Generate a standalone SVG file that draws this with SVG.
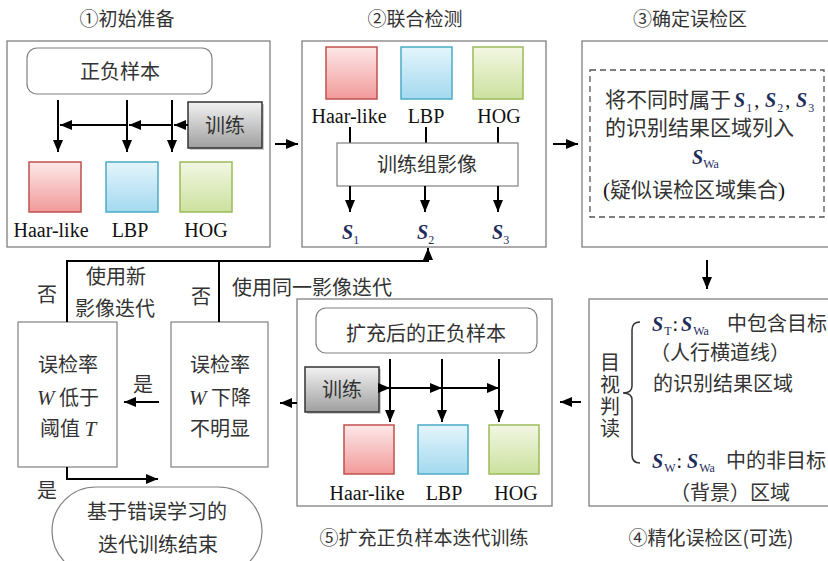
<svg xmlns="http://www.w3.org/2000/svg" width="828" height="561" viewBox="0 0 828 561">
<defs>
<linearGradient id="gRed" x1="0" y1="0" x2="0" y2="1"><stop offset="0" stop-color="#fde8e8"/><stop offset="1" stop-color="#f29a9a"/></linearGradient>
<linearGradient id="gBlue" x1="0" y1="0" x2="0" y2="1"><stop offset="0" stop-color="#e4f5fc"/><stop offset="1" stop-color="#a3d9ef"/></linearGradient>
<linearGradient id="gGreen" x1="0" y1="0" x2="0" y2="1"><stop offset="0" stop-color="#f2f7e3"/><stop offset="1" stop-color="#cce19e"/></linearGradient>
<linearGradient id="gGray" x1="0" y1="0" x2="0" y2="1"><stop offset="0" stop-color="#f2f2f2"/><stop offset="1" stop-color="#9f9f9f"/></linearGradient>
<marker id="ah" viewBox="0 0 12 10" refX="12" refY="5" markerWidth="12" markerHeight="10" markerUnits="userSpaceOnUse" orient="auto"><path d="M0,0 L12,5 L0,10 z" fill="#000"/></marker>
</defs>
<style>
.panel{fill:#fff;stroke:#808080;stroke-width:1.3}
.box{fill:#fff;stroke:#808080;stroke-width:1.2}
.cjk{font-family:"Noto Sans CJK SC","Noto Sans CJK JP",sans-serif;fill:#333;font-size:20px}
.title{font-size:19px}
.mid{text-anchor:middle}
.lat{font-family:"Liberation Serif",serif;fill:#111;font-size:20px}
.s{font-family:"Liberation Serif",serif;font-style:italic;font-weight:bold;fill:#1f2d5c;font-size:20px}
.sub{font-style:normal;font-weight:normal;font-size:12px}
.pl{font-style:normal;font-weight:normal;fill:#111}
.it{font-family:"Liberation Serif",serif;font-style:italic}
.ln{stroke:#000;stroke-width:2;fill:none}
.ar{stroke:#000;stroke-width:2;fill:none;marker-end:url(#ah)}
.red{fill:url(#gRed);stroke:#c0504d;stroke-width:1.5}
.blue{fill:url(#gBlue);stroke:#4bacc6;stroke-width:1.5}
.green{fill:url(#gGreen);stroke:#9bbb59;stroke-width:1.5}
.train{fill:url(#gGray);stroke:#333;stroke-width:1.5}
.shadow{fill:#999;opacity:0.5}
</style>

<!-- Panel 1 -->
<g id="panel1">
<text class="cjk title mid" x="127" y="26">①初始准备</text>
<rect class="panel" x="7" y="41" width="263" height="206"/>
<rect class="box" x="27" y="48" width="185" height="46" rx="10"/>
<text class="cjk mid" x="120" y="79">正负样本</text>
<rect class="shadow" x="190" y="104" width="74" height="46"/>
<rect class="train" x="188" y="102" width="74" height="46"/>
<text class="cjk mid" x="225" y="133">训练</text>
<rect class="red" x="29" y="162" width="52" height="50"/>
<rect class="blue" x="106" y="162" width="52" height="50"/>
<rect class="green" x="180" y="162" width="52" height="50"/>
<text class="lat mid" x="51" y="237">Haar-like</text>
<text class="lat mid" x="130" y="237">LBP</text>
<text class="lat mid" x="206" y="237">HOG</text>
<path class="ar" d="M58,100 L58,152"/>
<path class="ar" d="M127,100 L127,152"/>
<path class="ar" d="M172,100 L172,152"/>
<path class="ar" d="M188,125 L174,125"/>
<path class="ar" d="M172,125 L129,125"/>
<path class="ar" d="M127,125 L60,125"/>
</g>

<!-- Panel 2 -->
<g id="panel2">
<text class="cjk title mid" x="415" y="26">②联合检测</text>
<rect class="panel" x="302" y="41" width="244" height="206"/>
<rect class="red" x="326" y="47" width="51" height="52"/>
<rect class="blue" x="401" y="47" width="51" height="52"/>
<rect class="green" x="473" y="47" width="50" height="52"/>
<text class="lat mid" x="349" y="123">Haar-like</text>
<text class="lat mid" x="426" y="123">LBP</text>
<text class="lat mid" x="499" y="123">HOG</text>
<path class="ln" d="M350,127 L350,143 M426,127 L426,143 M498,127 L498,143" stroke-width="1.5"/>
<rect class="box" x="337" y="143" width="181" height="43"/>
<text class="cjk mid" x="427" y="172">训练组影像</text>
<path class="ar" d="M350,186 L350,212"/>
<path class="ar" d="M425,186 L425,212"/>
<path class="ar" d="M498,186 L498,212"/>
<text class="s" x="342" y="239">S<tspan class="sub" dy="5">1</tspan></text>
<text class="s" x="417" y="239">S<tspan class="sub" dy="5">2</tspan></text>
<text class="s" x="492" y="239">S<tspan class="sub" dy="5">3</tspan></text>
</g>

<!-- Panel 3 -->
<g id="panel3">
<text class="cjk title mid" x="690" y="26">③确定误检区</text>
<rect class="panel" x="582" y="41" width="252" height="206"/>
<rect x="590" y="70" width="234" height="147" fill="none" stroke="#555" stroke-width="1.3" stroke-dasharray="6,4"/>
<text class="cjk" x="605" y="107" style="font-size:21px">将不同时属于<tspan class="s" x="734">S</tspan><tspan class="s sub" dx="1" dy="5">1</tspan><tspan class="lat" dx="2" dy="-5">,</tspan><tspan class="s" x="765">S</tspan><tspan class="s sub" dx="1" dy="5">2</tspan><tspan class="lat" dx="2" dy="-5">,</tspan><tspan class="s" x="796">S</tspan><tspan class="s sub" dx="1" dy="5">3</tspan></text>
<text class="cjk" x="605" y="135" style="font-size:21px">的识别结果区域列入</text>
<text class="s" x="692" y="164">S<tspan class="sub" dy="4">Wa</tspan></text>
<text class="cjk" x="603" y="197" style="font-size:21px"><tspan class="lat" style="font-size:21px">(</tspan>疑似误检区域集合<tspan class="lat" style="font-size:21px">)</tspan></text>
</g>

<!-- Panel 4 -->
<g id="panel4">
<rect class="panel" x="589" y="299" width="245" height="207"/>
<text class="cjk" x="610" y="352" writing-mode="vertical-rl" style="letter-spacing:2px">目视判读</text>
<path d="M640,322 Q632,322 632,330 L632,386 Q632,393 623,393 Q632,393 632,400 L632,455 Q632,463 640,463" fill="none" stroke="#333" stroke-width="1.5"/>
<text class="s" x="652" y="331">S<tspan class="sub" dx="1" dy="4">T</tspan><tspan class="pl" dx="1" dy="-4">:</tspan><tspan x="681">S</tspan><tspan class="sub" dx="1" dy="4">Wa</tspan></text>
<text class="cjk" x="727" y="331">中包含目标</text>
<text class="cjk" x="650" y="360">（人行横道线）</text>
<text class="cjk" x="653" y="391">的识别结果区域</text>
<text class="s" x="652" y="468">S<tspan class="sub" dx="1" dy="4">W</tspan><tspan class="pl" dx="1" dy="-4">:</tspan><tspan x="687">S</tspan><tspan class="sub" dx="1" dy="4">Wa</tspan></text>
<text class="cjk" x="726" y="468">中的非目标</text>
<text class="cjk" x="670" y="500">（背景）区域</text>
<text class="cjk title mid" x="711" y="545">④精化误检区(可选)</text>
</g>

<!-- Panel 5 -->
<g id="panel5">
<rect class="panel" x="297" y="299" width="255" height="207"/>
<rect class="box" x="316" y="308" width="221" height="45" rx="10"/>
<text class="cjk mid" x="426" y="341">扩充后的正负样本</text>
<rect class="shadow" x="307" y="369" width="74" height="45"/>
<rect class="train" x="305" y="367" width="74" height="45"/>
<text class="cjk mid" x="342" y="397">训练</text>
<rect class="red" x="344" y="425" width="50" height="49"/>
<rect class="blue" x="418" y="425" width="50" height="49"/>
<rect class="green" x="489" y="425" width="50" height="49"/>
<text class="lat mid" x="367" y="500">Haar-like</text>
<text class="lat mid" x="444" y="500">LBP</text>
<text class="lat mid" x="516" y="500">HOG</text>
<path class="ar" d="M390,359 L390,422"/>
<path class="ar" d="M442,359 L442,422"/>
<path class="ar" d="M499,359 L499,422"/>
<path class="ar" d="M379,388 L390,388"/>
<path class="ar" d="M390,388 L442,388"/>
<path class="ar" d="M442,388 L499,388"/>
<text class="cjk title mid" x="424" y="545">⑤扩充正负样本迭代训练</text>
</g>

<!-- Decision boxes -->
<g id="decision2">
<rect class="box" x="171" y="322" width="97" height="145"/>
<text class="cjk mid" x="220" y="372">误检率</text>
<text class="cjk mid" x="220" y="405"><tspan class="it" style="font-size:21px">W</tspan> 下降</text>
<text class="cjk mid" x="220" y="436">不明显</text>
</g>
<g id="decision1">
<rect class="box" x="18" y="322" width="99" height="145"/>
<text class="cjk mid" x="68" y="372">误检率</text>
<text class="cjk mid" x="68" y="405"><tspan class="it" style="font-size:21px">W</tspan> 低于</text>
<text class="cjk mid" x="68" y="436">阈值 <tspan class="it" style="font-size:21px">T</tspan></text>
</g>
<g id="end">
<rect class="box" x="52" y="487" width="210" height="88" rx="44"/>
<text class="cjk mid" x="157" y="519">基于错误学习的</text>
<text class="cjk mid" x="158" y="552">迭代训练结束</text>
</g>

<!-- Connectors -->
<g id="connectors">
<path class="ar" d="M275,144 L298,144"/>
<path class="ar" d="M553,144 L578,144"/>
<path class="ar" d="M707,260 L707,289"/>
<path class="ar" d="M581,402 L560,402"/>
<path class="ar" d="M297,403 L280,403"/>
<path class="ar" d="M159,402 L124,402"/>
<path class="ar" d="M67,322 L67,261 L428,261 L428,248"/>
<path class="ln" d="M219,322 L219,261"/>
<path class="ar" d="M67,467 L67,479 L158,479"/>
<text class="cjk mid" x="143" y="392">是</text>
<text class="cjk mid" x="47" y="302">否</text>
<text class="cjk mid" x="116" y="284">使用新</text>
<text class="cjk mid" x="115" y="316">影像迭代</text>
<text class="cjk mid" x="201" y="304">否</text>
<text class="cjk" x="232" y="295">使用同一影像迭代</text>
<text class="cjk mid" x="47" y="498">是</text>
</g>
</svg>
